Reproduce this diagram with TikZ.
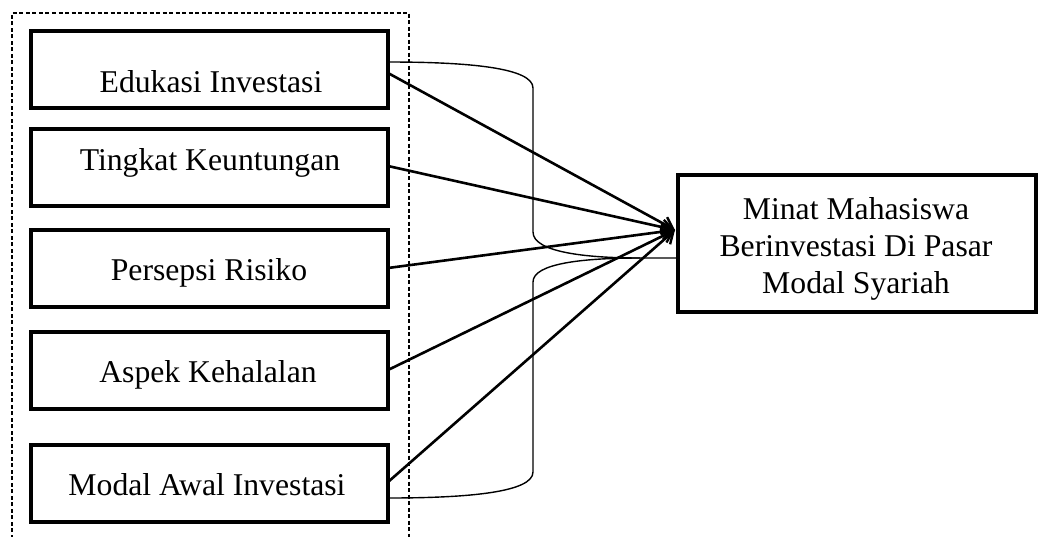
\documentclass[tikz,border=0pt]{standalone}
\usepackage{fontspec}
\setmainfont{Liberation Serif}
\usetikzlibrary{arrows.meta}
\tikzset{
  inbox/.style={draw, line width=4pt, inner sep=0pt, minimum width=357.5pt, minimum height=77pt},
  outbox/.style={draw, line width=4pt, inner sep=0pt, minimum width=358.5pt, minimum height=137pt},
  lbl/.style={anchor=base, inner sep=0pt, font=\fontsize{31.7}{37}\selectfont},
  rlbl/.style={anchor=center, inner sep=0pt, align=center, font=\fontsize{31.7}{37}\selectfont},
  arr/.style={line width=2.6pt, -{Straight Barb[length=11pt,width=15pt,line width=2.4pt]}},
  thin/.style={line width=1.4pt},
  grp/.style={draw, line width=1.3pt, dash pattern=on 4pt off 2.5pt}
}
\begin{document}
\begin{tikzpicture}[x=1pt,y=-1pt]
\clip (0,0) rectangle (1038,536);
% group frame
\draw[grp] (12,545) -- (12,13) -- (409,13) -- (409,545);
% input boxes
\node[inbox] (b1) at (209.25,69.25) {};
\node[inbox] (b2) at (209.25,167.5) {};
\node[inbox] (b3) at (209.25,268.75) {};
\node[inbox] (b4) at (209.25,370.5) {};
\node[inbox] (b5) at (209.25,483.75) {};
\node[lbl] (t1) at (211,92) {Edukasi Investasi};
\node[lbl] (t2) at (210,170) {Tingkat Keuntungan};
\node[lbl] (t3) at (209,280) {Persepsi Risiko};
\node[lbl] (t4) at (208,382) {Aspek Kehalalan};
\node[lbl] (t5) at (207,495) {Modal Awal Investasi};
% output box
\node[outbox] (m) at (856.75,243) {};
\node[rlbl] (tm) at (856,249) {Minat Mahasiswa\\Berinvestasi Di Pasar\\Modal Syariah};
% arrow tip point on the output box
\coordinate (tip) at (675,230);
\coordinate (s1) at (388,73);
\coordinate (s2) at (388,166);
\coordinate (s3) at (388,268);
\coordinate (s4) at (388,370);
\coordinate (s5) at (388,482);
\draw[arr] (s1) -- (tip);
\draw[arr] (s2) -- (tip);
\draw[arr] (s3) -- (tip);
\draw[arr] (s4) -- (tip);
\draw[arr] (s5) -- (tip);
% brace-like thin connectors
\coordinate (c1) at (388,62);
\coordinate (c5) at (388,498);
\coordinate (cm) at (677,258);
\draw[thin] (c1) .. controls (470,62) and (533,68) .. (533,88) -- (533,232)
  .. controls (533,252) and (585,258) .. (640,258) -- (cm);
\draw[thin] (c5) .. controls (470,498) and (533,492) .. (533,472) -- (533,282)
  .. controls (533,263) and (585,258) .. (640,258);
\end{tikzpicture}
\end{document}
